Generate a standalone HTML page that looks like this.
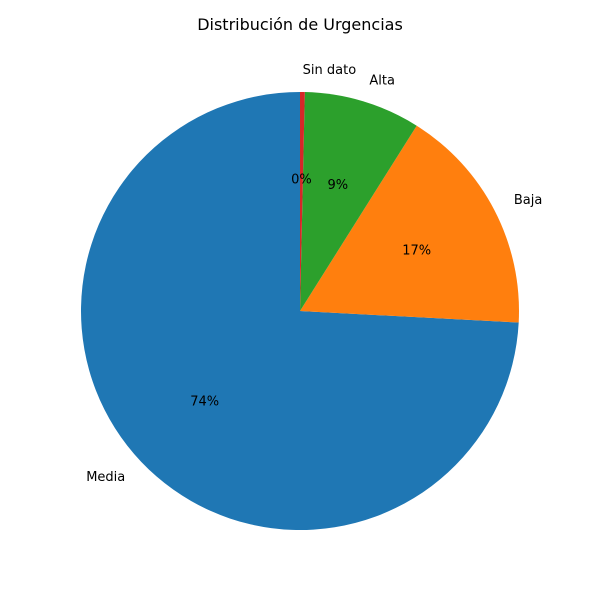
<!DOCTYPE html>
<html><head><meta charset="utf-8"><style>
body{margin:0;background:#fff;}
svg text{font-family:"DejaVu Sans","Liberation Sans",sans-serif;}
</style></head><body>
<svg id="chart" width="600" height="600" viewBox="0 0 600 600">
<rect width="600" height="600" fill="#fff"/>
<text x="300" y="30" font-size="16" text-anchor="middle">Distribución de Urgencias</text>
<g id="slices"></g>
</svg>
<script>
const categories = ["Media", "Baja", "Alta", "Sin dato"];
const values = [74.2, 16.9, 8.6, 0.35];
const colors = ["#1f77b4", "#ff7f0e", "#2ca02c", "#d62728"];
const cx = 300, cy = 311, R = 219;
const g = document.getElementById('slices');
const NS = 'http://www.w3.org/2000/svg';
const total = values.reduce((a, b) => a + b, 0);
let start = 90;
values.forEach((v, i) => {
  const sweep = v / total * 360;
  const end = start + sweep;
  const a0 = start * Math.PI / 180, a1 = end * Math.PI / 180;
  const x0 = cx + R * Math.cos(a0), y0 = cy - R * Math.sin(a0);
  const x1 = cx + R * Math.cos(a1), y1 = cy - R * Math.sin(a1);
  const large = sweep > 180 ? 1 : 0;
  const p = document.createElementNS(NS, 'path');
  p.setAttribute('d', `M${cx},${cy} L${x0},${y0} A${R},${R} 0 ${large} 0 ${x1},${y1} Z`);
  p.setAttribute('fill', colors[i]);
  
  
  g.appendChild(p);
  const mid = (start + sweep / 2) * Math.PI / 180;
  const lx = cx + 1.1 * R * Math.cos(mid), ly = cy - 1.1 * R * Math.sin(mid);
  const t = document.createElementNS(NS, 'text');
  t.setAttribute('x', lx); t.setAttribute('y', ly + 4);
  t.setAttribute('font-size', '13');
  t.setAttribute('text-anchor', Math.cos(mid) < 0 ? 'end' : 'start');
  t.textContent = categories[i];
  
  
  g.appendChild(t);
  const px = cx + 0.6 * R * Math.cos(mid), py = cy - 0.6 * R * Math.sin(mid);
  const q = document.createElementNS(NS, 'text');
  q.setAttribute('x', px); q.setAttribute('y', py + 4);
  q.setAttribute('font-size', '13');
  q.setAttribute('text-anchor', 'middle');
  q.textContent = Math.round(v / total * 100) + '%';
  
  
  g.appendChild(q);
  start = end;
});
</script>
</body></html>
